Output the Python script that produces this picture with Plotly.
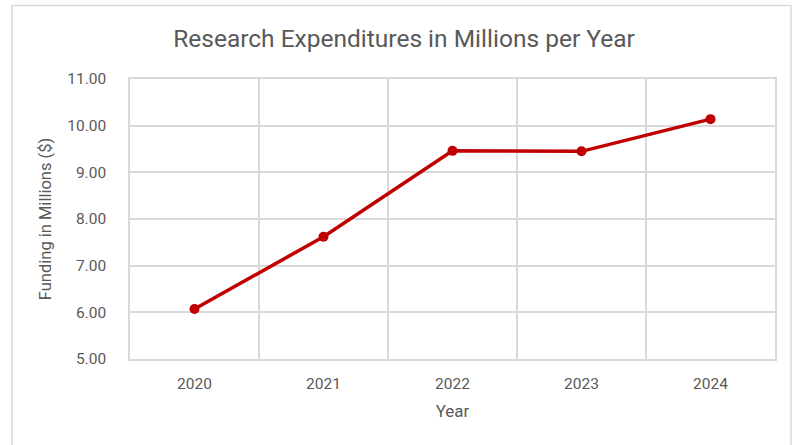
import plotly.graph_objects as go

years = [2020, 2021, 2022, 2023, 2024]
funding = [6.07, 7.62, 9.46, 9.45, 10.14]
y_ticks = [5, 6, 7, 8, 9, 10, 11]

W, H = 801, 445
L, R, T, B = 130, 26, 79, 86
pw, ph = W - L - R, H - T - B

def px_x(p):
    return (p - L) / pw

def px_y(p):
    return 1 - (p - T) / ph

txt = "#595959"
grid = "#D9D9D9"
font_family = "Roboto, 'Open Sans', sans-serif"

fig = go.Figure()
fig.add_trace(go.Scatter(
    x=years, y=funding, mode="lines+markers",
    line=dict(color="#C00000", width=3.5),
    marker=dict(color="#C00000", size=10),
    showlegend=False, hoverinfo="skip",
))

fig.update_layout(
    width=W, height=H,
    margin=dict(l=L, r=R, t=T, b=B),
    paper_bgcolor="white", plot_bgcolor="white",
    font=dict(family=font_family, color=txt, size=12),
    title=dict(text="Research Expenditures in Millions per Year",
               x=404 / W, xanchor="center", xref="container",
               y=1 - 38 / H, yanchor="middle", yref="container",
               font=dict(size=24.5, color=txt, family=font_family)),
    xaxis=dict(
        range=[2019.5, 2024.5], tickvals=years, ticktext=[str(y) for y in years],
        showgrid=False, zeroline=False,
        showline=True, linecolor=grid, linewidth=1.5, mirror=True,
        ticks="", ticklabelstandoff=10,
        minor=dict(tick0=2019.5, dtick=1, showgrid=True, gridcolor=grid, gridwidth=1.5, ticks=""),
        title=dict(text="Year", font=dict(size=17, color=txt), standoff=13),
        tickfont=dict(size=15.5, color=txt),
    ),
    yaxis=dict(
        range=[5, 11], tickvals=y_ticks, tickformat=".2f",
        showgrid=True, gridcolor=grid, gridwidth=1.5, zeroline=False,
        showline=True, linecolor=grid, linewidth=1.5, mirror=True,
        ticks="", ticklabelstandoff=19,
        title=dict(text="Funding in Millions ($)", font=dict(size=16.5, color=txt), standoff=11),
        tickfont=dict(size=15.5, color=txt),
    ),
    shapes=[dict(
        type="rect", xref="paper", yref="paper",
        x0=px_x(12), x1=px_x(791), y0=px_y(460), y1=px_y(5.5),
        line=dict(color="#D9D9D9", width=1.5), fillcolor="rgba(0,0,0,0)", layer="below",
    )],
)

fig.write_html("out.html")
